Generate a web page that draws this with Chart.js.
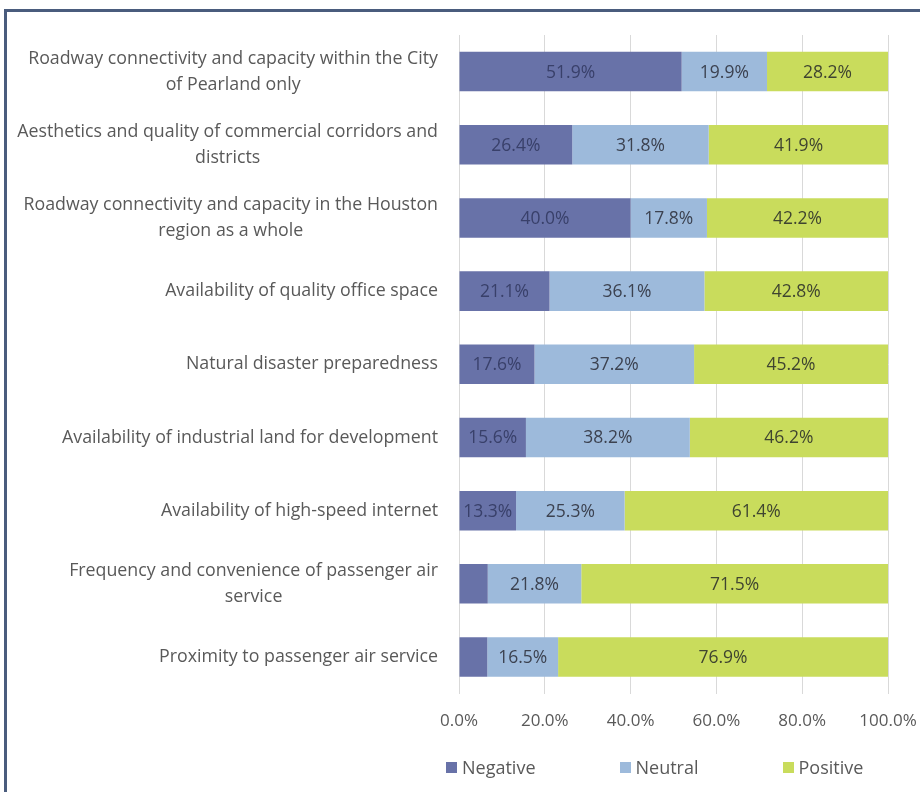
<!DOCTYPE html>
<html>
<head>
<meta charset="utf-8">
<script src="https://cdn.jsdelivr.net/npm/chart.js@4"></script>
<style>
  html, body { margin: 0; padding: 0; background: #fff; }
  body { width: 920px; height: 792px; overflow: hidden; position: relative; font-family: "Open Sans", "Noto Sans", sans-serif; }
  #frame { position: absolute; left: 4px; top: 9px; width: 1000px; height: 1000px; border: 3px solid #4a5c7d; }
  #chart { position: absolute; left: 0; top: 0; }
  #legend { position: absolute; left: 446px; top: 755px; margin: 0; padding: 0; list-style: none;
            display: flex; gap: 84px; font-size: 18px; line-height: 24px; color: #595959; }
  #legend li { display: flex; align-items: center; }
  #legend .box { display: inline-block; width: 11px; height: 11px; margin-right: 5px; }
</style>
</head>
<body>
<div id="frame"></div>
<canvas id="chart" width="920" height="792"></canvas>
<ul id="legend"></ul>
<script>
// Survey answers, share of respondents (%)
const categories = [
    ['Roadway connectivity and capacity within the City', 'of Pearland only'],
    ['Aesthetics and quality of commercial corridors and', 'districts'],
    ['Roadway connectivity and capacity in the Houston', 'region as a whole'],
    'Availability of quality office space',
    'Natural disaster preparedness',
    'Availability of industrial land for development',
    'Availability of high-speed internet',
    ['Frequency and convenience of passenger air', 'service'],
    'Proximity to passenger air service'
];
const negative = [51.9, 26.4, 40.0, 21.1, 17.6, 15.6, 13.3, 6.7, 6.6];
const neutral  = [19.9, 31.8, 17.8, 36.1, 37.2, 38.2, 25.3, 21.8, 16.5];
const positive = [28.2, 41.9, 42.2, 42.8, 45.2, 46.2, 61.4, 71.5, 76.9];
const xTicks = [0, 20, 40, 60, 80, 100];

const FONT = '"Open Sans", "Noto Sans", sans-serif';

// category labels: right aligned block, lines centred on each other (like Excel)
const categoryLabels = {
    id: 'categoryLabels',
    afterDraw(chart) {
        const ctx = chart.ctx;
        const yScale = chart.scales.y;
        const right = chart.chartArea.left - 21;
        ctx.save();
        ctx.font = '17.8px ' + FONT;
        ctx.fillStyle = '#595959';
        ctx.textAlign = 'center';
        ctx.textBaseline = 'middle';
        chart.data.labels.forEach((label, i) => {
            const lines = [].concat(label);
            const w = Math.max(...lines.map(l => ctx.measureText(l).width));
            const cy = yScale.getPixelForValue(i);
            lines.forEach((line, j) => {
                ctx.fillText(line, right - w / 2, cy + (j - (lines.length - 1) / 2) * 26);
            });
        });
        ctx.restore();
    }
};

// value labels in the middle of each segment
const barValues = {
    id: 'barValues',
    afterDatasetsDraw(chart) {
        const ctx = chart.ctx;
        ctx.save();
        ctx.font = '17.5px ' + FONT;
        ctx.textAlign = 'center';
        ctx.textBaseline = 'middle';
        chart.data.datasets.forEach((ds, d) => {
            chart.getDatasetMeta(d).data.forEach((bar, i) => {
                const v = ds.data[i];
                if (v < 8) return; // too thin for a label
                ctx.fillStyle = ds.labelColor;
                ctx.fillText(v.toFixed(1) + '%', (bar.x + bar.base) / 2, bar.y + 1);
            });
        });
        ctx.restore();
    }
};

// legend as html, so the item spacing can follow the original
const htmlLegend = {
    id: 'htmlLegend',
    afterUpdate(chart) {
        const ul = document.getElementById('legend');
        ul.innerHTML = '';
        chart.options.plugins.legend.labels.generateLabels(chart).forEach(item => {
            const li = document.createElement('li');
            const box = document.createElement('span');
            box.className = 'box';
            box.style.background = item.fillStyle;
            li.appendChild(box);
            li.appendChild(document.createTextNode(item.text));
            ul.appendChild(li);
        });
    }
};

function draw() {
    const ctx = document.getElementById('chart').getContext('2d');
    new Chart(ctx, {
        type: 'bar',
        data: {
            labels: categories,
            datasets: [
                { label: 'Negative', data: negative, backgroundColor: '#6872a8', labelColor: '#39406a' },
                { label: 'Neutral', data: neutral, backgroundColor: '#9dbadb', labelColor: '#3c4250' },
                { label: 'Positive', data: positive, backgroundColor: '#c9dc5c', labelColor: '#3f4430' }
            ]
        },
        options: {
            indexAxis: 'y',
            responsive: false,
            animation: false,
            layout: { padding: { left: 0, right: 32, top: 35, bottom: 61 } },
            datasets: { bar: { categoryPercentage: 1, barPercentage: 0.54 } },
            scales: {
                x: {
                    stacked: true,
                    min: 0,
                    max: 100,
                    afterBuildTicks: s => { s.ticks = xTicks.map(v => ({ value: v })); },
                    ticks: {
                        callback: v => v.toFixed(1) + '%',
                        color: '#595959',
                        font: { family: FONT, size: 17 },
                        padding: 0,
                        maxRotation: 0
                    },
                    grid: { color: '#d9d9d9', drawTicks: true, tickLength: 17, tickColor: 'rgba(0,0,0,0)' },
                    border: { display: false }
                },
                y: {
                    stacked: true,
                    ticks: { display: false },
                    grid: { display: false },
                    border: { display: false },
                    afterFit: s => { s.width = 459; }
                }
            },
            plugins: {
                legend: { display: false },
                tooltip: { enabled: false }
            }
        },
        plugins: [categoryLabels, barValues, htmlLegend]
    });
}

document.fonts.load('16px "Open Sans"').then(draw, draw);
</script>
</body>
</html>
